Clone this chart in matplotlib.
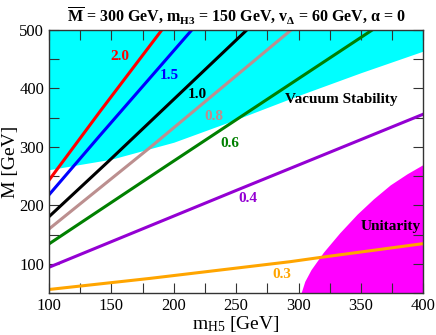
import numpy as np
import matplotlib
matplotlib.use('Agg')
import matplotlib.pyplot as plt
from matplotlib import ticker

plt.rcParams['font.family'] = ['Liberation Serif', 'DejaVu Serif']
plt.rcParams['mathtext.fontset'] = 'custom'
plt.rcParams['mathtext.rm'] = 'Liberation Serif'
plt.rcParams['mathtext.it'] = 'Liberation Serif:italic'
plt.rcParams['mathtext.bf'] = 'Liberation Serif:bold'

# curves M(mH5) for each coupling value
red_x, red_M = [100, 141, 190.4], [243, 361, 500]
blue_x, blue_M = [100, 141, 214.4], [218, 320, 500]
black_x, black_M = [100, 149, 258.5], [180.6, 278, 500]
brown_x, brown_M = [100, 181, 294], [159.5, 299, 500]
green_x, green_M = [100, 194.4, 359], [134, 268, 500]
purple_x, purple_M = [100, 250.6, 400], [94, 226, 356]
orange_x, orange_M = [100, 181, 293, 318, 400], [56, 75, 103.5, 111, 134.5]

# vacuum stability boundary (excluded above)
vs_x = [100, 150, 200, 250, 300, 350, 400]
vs_M = [261, 279, 308, 347, 388, 427, 464]

# unitarity boundary (excluded below/right)
un_x = [302, 305, 310, 320, 333, 347, 360, 373.5, 387, 400]
un_M = [50, 70, 90, 120, 153, 185, 211, 235, 254, 270]

fig = plt.figure(figsize=(4.36, 3.35), dpi=100)
ax = fig.add_axes([0.1124, 0.1254, 0.8585, 0.785])

ax.fill_between(vs_x, vs_M, 500, color='#00ffff', linewidth=0, zorder=1)
ax.fill_between(un_x, 50, un_M, color='#ff00ff', linewidth=0, zorder=1)

lw = 2.2
ax.plot(red_x, red_M, color='#ff0000', lw=lw)
ax.plot(blue_x, blue_M, color='#0000ff', lw=lw)
ax.plot(black_x, black_M, color='#000000', lw=lw)
ax.plot(brown_x, brown_M, color='#bc8f8f', lw=lw)
ax.plot(green_x, green_M, color='#008000', lw=lw)
ax.plot(purple_x, purple_M, color='#9400d3', lw=lw)
ax.plot(orange_x, orange_M, color='#ffa500', lw=lw)

lab = dict(fontsize=11, fontweight='bold', ha='center', va='center')
ax.text(156.4, 454.3, '2.0', color='#ff0000', **lab)
ax.text(196.5, 421.8, '1.5', color='#0000ff', **lab)
ax.text(218.5, 390.5, '1.0', color='#000000', **lab)
ax.text(231.8, 351.7, '0.8', color='#bc8f8f', **lab)
ax.text(245.2, 306, '0.6', color='#008000', **lab)
ax.text(259.6, 212.5, '0.4', color='#9400d3', **lab)
ax.text(286.6, 80.8, '0.3', color='#ffa500', **lab)
ax.text(334, 381.4, 'Vacuum Stability', color='black', **lab)
ax.text(373.5, 164.6, 'Unitarity', color='black', **lab)

ax.set_xlim(100, 400)
ax.set_ylim(50, 500)
ax.xaxis.set_major_locator(ticker.MultipleLocator(50))
ax.xaxis.set_minor_locator(ticker.MultipleLocator(25))
ax.yaxis.set_major_locator(ticker.MultipleLocator(100))
ax.yaxis.set_minor_locator(ticker.MultipleLocator(50))
ax.tick_params(which='both', direction='in', top=True, right=True,
               length=7, width=0.8, color='#333333', labelsize=12)
for s in ax.spines.values():
    s.set_linewidth(1.0)
    s.set_color('#333333')

ax.set_xlabel(r'm$_{\mathrm{H5}}$ [GeV]', fontsize=14, labelpad=0)
ax.set_ylabel('M [GeV]', fontsize=14, labelpad=0)
ax.set_title(r'$\mathbf{\overline{M}}$ = 300 GeV, m$_{\mathbf{H3}}$ = 150 GeV, '
             r'v$_{\mathbf{\Delta}}$ = 60 GeV, $\mathbf{\alpha}$ = 0',
             fontsize=11.5, fontweight='bold', pad=6)

fig.savefig('out.png', dpi=100)
